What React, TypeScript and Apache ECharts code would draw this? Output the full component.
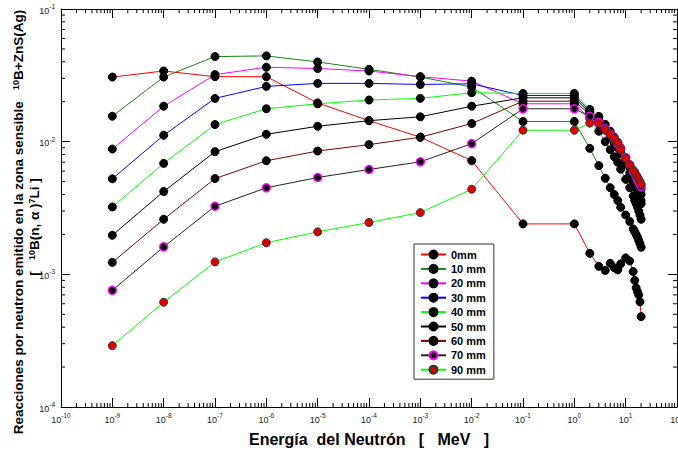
import React, { useEffect, useRef } from "react";
import * as echarts from "echarts";

// Neutron energies (MeV)
const energiesLow = [1e-9, 1e-8, 1e-7, 1e-6, 1e-5, 1e-4, 1e-3, 1e-2, 1e-1, 1];
const energiesHigh = [2, 3, 4, 5, 6, 7, 8, 10, 12, 14, 15, 16, 17, 18, 19, 20];
const energies = [...energiesLow, ...energiesHigh];

const seriesNames = ["0mm", "10 mm", "20 mm", "30 mm", "40 mm", "50 mm", "60 mm", "70 mm", "90 mm"];

const r0mm = [0.0307, 0.0341, 0.0309, 0.0309, 0.0196, 0.0144, 0.0108, 0.0072, 0.0024, 0.0024,
  0.00144, 0.00115, 0.00107, 0.00121, 0.00112, 0.00108, 0.0012, 0.00133, 0.00126, 0.00105, 0.0009, 0.00079, 0.00074, 0.0007, 0.00062, 0.00048];
const r10mm = [0.01556, 0.0307, 0.0438, 0.0443, 0.0399, 0.0351, 0.0307, 0.0258, 0.0142, 0.0142,
  0.0089, 0.0066, 0.0053, 0.0045, 0.004, 0.0036, 0.0032, 0.0028, 0.0025, 0.0022, 0.0021, 0.002, 0.0019, 0.0018, 0.0017, 0.0016];
const r20mm = [0.0088, 0.0185, 0.032, 0.0364, 0.0356, 0.0341, 0.0309, 0.0286, 0.0193, 0.0193,
  0.015, 0.012, 0.01, 0.0087, 0.0077, 0.007, 0.0062, 0.0052, 0.0045, 0.0039, 0.0036, 0.0034, 0.0032, 0.003, 0.0028, 0.0026];
const r30mm = [0.00525, 0.01117, 0.0212, 0.0261, 0.0275, 0.0275, 0.027, 0.0273, 0.0223, 0.0223,
  0.017, 0.0145, 0.0125, 0.011, 0.0098, 0.009, 0.0081, 0.0068, 0.0058, 0.005, 0.0047, 0.0044, 0.0041, 0.0039, 0.0037, 0.0034];
const r40mm = [0.00322, 0.00686, 0.01346, 0.0177, 0.0193, 0.0206, 0.0212, 0.0234, 0.0231, 0.0231,
  0.0175, 0.0155, 0.0135, 0.012, 0.0108, 0.0099, 0.009, 0.0076, 0.0066, 0.0057, 0.0053, 0.005, 0.0047, 0.0044, 0.0041, 0.0036];
const r50mm = [0.00197, 0.00421, 0.0084, 0.01136, 0.01306, 0.0144, 0.0154, 0.0185, 0.0214, 0.0214,
  0.0165, 0.014, 0.0122, 0.011, 0.01, 0.0093, 0.0085, 0.0073, 0.0064, 0.0056, 0.0053, 0.005, 0.0047, 0.0045, 0.0042, 0.004];
const r60mm = [0.00123, 0.0026, 0.00527, 0.00718, 0.0085, 0.0095, 0.0108, 0.0137, 0.0202, 0.0202,
  0.016, 0.0145, 0.0126, 0.0114, 0.0104, 0.0096, 0.0088, 0.0076, 0.0066, 0.0059, 0.0056, 0.0053, 0.005, 0.0048, 0.0046, 0.0044];
const r70mm = [0.000757, 0.00161, 0.00326, 0.00449, 0.00537, 0.00617, 0.00705, 0.00966, 0.0177, 0.0177,
  0.0155, 0.014, 0.0125, 0.0114, 0.0105, 0.0097, 0.0088, 0.0076, 0.0067, 0.006, 0.0058, 0.0055, 0.0052, 0.005, 0.0048, 0.0046];
const r90mm = [0.00029, 0.000616, 0.00124, 0.00173, 0.00209, 0.00246, 0.00292, 0.00438, 0.0122, 0.0122,
  0.0138, 0.0138, 0.0123, 0.0113, 0.0105, 0.0098, 0.0087, 0.0075, 0.0067, 0.0061, 0.0059, 0.0056, 0.0054, 0.0052, 0.005, 0.0048];

const seriesValues = [r0mm, r10mm, r20mm, r30mm, r40mm, r50mm, r60mm, r70mm, r90mm];

// axis ranges
const xMin = 1e-10;
const xMax = 1e2;
const yMin = 1e-4;
const yMax = 1e-1;
const minorMultipliers = [2, 3, 4, 5, 6, 7, 8, 9];
const xDecades = [-10, -9, -8, -7, -6, -5, -4, -3, -2, -1, 0, 1];
const yDecades = [-4, -3, -2];

const FONT = "'Liberation Sans', Arial, Helvetica, sans-serif";

const lineColors = ["#ff0000", "#138a13", "#ff00ff", "#0000ff", "#00ff00", "#000000", "#800000", "#222222", "#00ff00"];
const markerFill = ["#000", "#000", "#000", "#000", "#000", "#000", "#000", "#000", "#e00000"];
const markerBorder = ["#000", "#000", "#000", "#000", "#000", "#000", "#000", "#ff00ff", "#333"];

function expLabel(v: number) {
  const e = Math.round(Math.log10(v));
  return `{b|10}{s|${e}}`;
}

const labelRich = {
  b: { fontSize: 9, fontFamily: FONT, color: "#222", verticalAlign: "bottom", lineHeight: 12 },
  s: { fontSize: 6.5, fontFamily: FONT, color: "#222", verticalAlign: "top", lineHeight: 8 },
};

export default function App() {
  const ref = useRef<HTMLDivElement>(null);

  useEffect(() => {
    if (!ref.current) return;
    const chart = echarts.init(ref.current, null, { renderer: "svg" });

    const xMinor: number[][] = [];
    xDecades.forEach((d) => minorMultipliers.forEach((m) => xMinor.push([m * Math.pow(10, d), yMin])));
    const yMinor: number[][] = [];
    yDecades.forEach((d) => minorMultipliers.forEach((m) => yMinor.push([xMin, m * Math.pow(10, d)])));

    const dataSeries = seriesNames.map((name, i) => ({
      name,
      type: "line",
      data: energies.map((e, j) => [e, seriesValues[i][j]]),
      symbol: "circle",
      symbolSize: 8,
      showSymbol: true,
      lineStyle: { color: lineColors[i], width: 1 },
      itemStyle: {
        color: markerFill[i],
        borderColor: markerBorder[i],
        borderWidth: i === 7 ? 1.5 : 1,
      },
      z: 3,
    }));

    const tickLen = 4;
    const minorXSeries = {
      type: "custom",
      silent: true,
      data: xMinor,
      z: 4,
      clip: false,
      renderItem: (params: any, api: any) => {
        const x = api.value(0);
        const pb = api.coord([x, yMin]);
        const pt = api.coord([x, yMax]);
        return {
          type: "group",
          children: [
            { type: "line", shape: { x1: pb[0], y1: pb[1], x2: pb[0], y2: pb[1] - tickLen }, style: { stroke: "#000", lineWidth: 1 } },
            { type: "line", shape: { x1: pt[0], y1: pt[1], x2: pt[0], y2: pt[1] + tickLen }, style: { stroke: "#000", lineWidth: 1 } },
          ],
        };
      },
    };
    const minorYSeries = {
      type: "custom",
      silent: true,
      data: yMinor,
      z: 4,
      clip: false,
      renderItem: (params: any, api: any) => {
        const y = api.value(1);
        const pl = api.coord([xMin, y]);
        const pr = api.coord([xMax, y]);
        return {
          type: "group",
          children: [
            { type: "line", shape: { x1: pl[0], y1: pl[1], x2: pl[0] + tickLen, y2: pl[1] }, style: { stroke: "#000", lineWidth: 1 } },
            { type: "line", shape: { x1: pr[0], y1: pr[1], x2: pr[0] - tickLen, y2: pr[1] }, style: { stroke: "#000", lineWidth: 1 } },
          ],
        };
      },
    };

    const axisCommon = {
      type: "log",
      logBase: 10,
      splitLine: { show: false },
      axisLine: { show: true, lineStyle: { color: "#000", width: 1 } },
      axisTick: { show: true, inside: true, length: 9, lineStyle: { color: "#000", width: 1 } },
    };

    chart.setOption({
      animation: false,
      backgroundColor: "#fff",
      textStyle: { fontFamily: FONT },
      grid: { left: 61, right: 1, top: 9, bottom: 48, containLabel: false, outerBoundsMode: "none" },
      xAxis: [
        {
          ...axisCommon,
          position: "bottom",
          min: xMin,
          max: xMax,
          interval: 1,
          axisLabel: { show: true, margin: 5, formatter: expLabel, rich: labelRich, hideOverlap: false },
        },
        {
          ...axisCommon,
          position: "top",
          min: xMin,
          max: xMax,
          interval: 1,
          axisLabel: { show: false },
        },
      ],
      yAxis: [
        {
          ...axisCommon,
          position: "left",
          min: yMin,
          max: yMax,
          interval: 1,
          axisLabel: { show: true, margin: 6, formatter: expLabel, rich: labelRich },
        },
        {
          ...axisCommon,
          position: "right",
          min: yMin,
          max: yMax,
          interval: 1,
          axisLabel: { show: false },
        },
      ],
      legend: {
        data: seriesNames,
        orient: "vertical",
        left: 414,
        top: 244,
        width: 74,
        padding: [5, 8, 4, 6],
        itemGap: 3.4,
        itemWidth: 25,
        itemHeight: 10,
        backgroundColor: "#fff",
        borderColor: "#333",
        borderWidth: 1,
        lineStyle: { width: 2 },
        textStyle: { fontFamily: FONT, fontSize: 11, fontWeight: "bold", color: "#000" },
      },
      graphic: [
        {
          type: "text",
          x: 369,
          y: 439,
          style: {
            text: "Energía  del Neutrón   [   MeV   ]",
            fontFamily: FONT,
            fontSize: 16,
            fontWeight: "bold",
            fill: "#000",
            align: "center",
            verticalAlign: "middle",
          },
        },
        {
          type: "text",
          x: 18,
          y: 222,
          rotation: Math.PI / 2,
          style: {
            text: "Reacciones por neutron emitido en la zona sensible   {s|10}B+ZnS(Ag)",
            fontFamily: FONT,
            fontSize: 13.5,
            fontWeight: "bold",
            fill: "#000",
            align: "center",
            verticalAlign: "middle",
            rich: {
              s: { fontSize: 9, fontWeight: "bold", fontFamily: FONT, verticalAlign: "top", lineHeight: 10 },
            },
          },
        },
        {
          type: "text",
          x: 34,
          y: 227,
          rotation: Math.PI / 2,
          style: {
            text: "[   {s|10}B(n, α ){s|7}Li ]",
            fontFamily: FONT,
            fontSize: 13.5,
            fontWeight: "bold",
            fill: "#000",
            align: "center",
            verticalAlign: "middle",
            rich: {
              s: { fontSize: 9, fontWeight: "bold", fontFamily: FONT, verticalAlign: "top", lineHeight: 10 },
            },
          },
        },
      ],
      series: [...dataSeries, minorXSeries, minorYSeries],
    });

    return () => chart.dispose();
  }, []);

  return <div ref={ref} style={{ width: 678, height: 455, position: "absolute", left: 0, top: 0 }} />;
}
